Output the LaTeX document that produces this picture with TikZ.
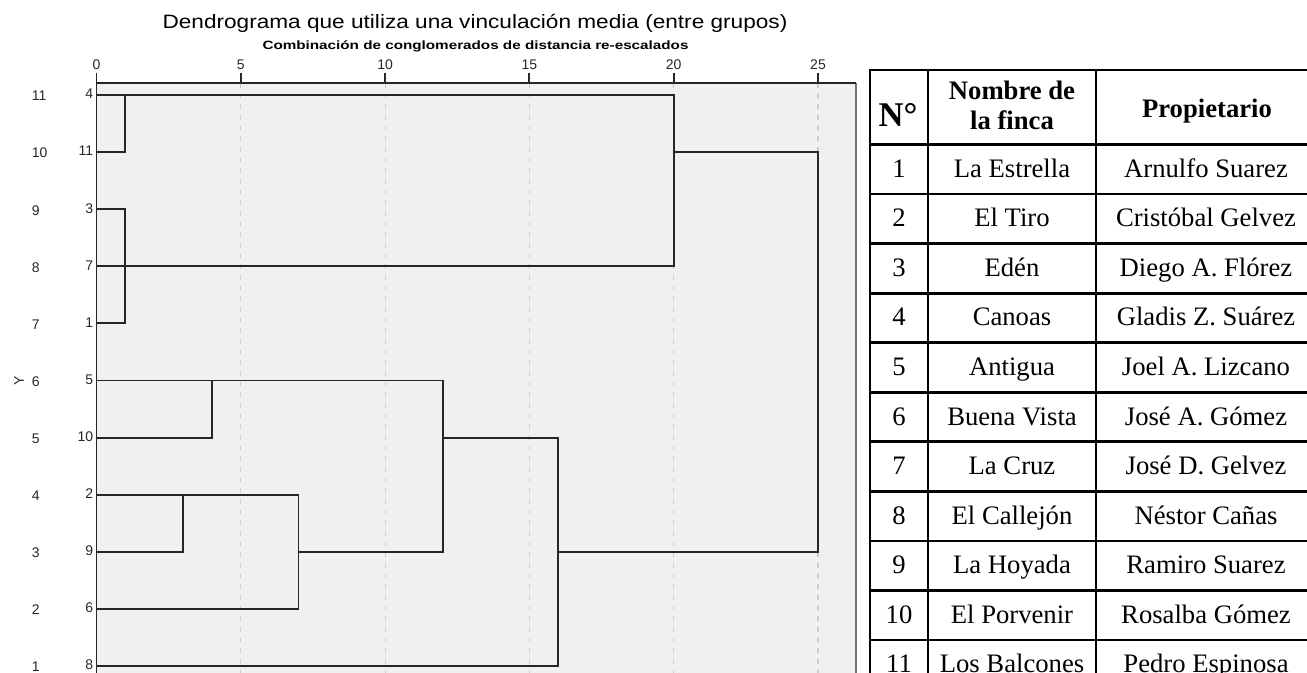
\documentclass[tikz,border=0pt]{standalone}
\usepackage{fontspec}
\setmainfont{Liberation Serif}
\setsansfont{Liberation Sans}
\usepackage{graphicx}
\usetikzlibrary{calc}
\newcommand\dd[1]{96.5+28.86*#1}
\begin{document}
\begin{tikzpicture}[x=0.75pt,y=-0.75pt,
  tree/.style={draw=black!85, line width=1.4pt},
  gridline/.style={draw=black!20, line width=0.9pt, dash pattern=on 3.5pt off 4.5pt},
  axis/.style={draw=black!85, line width=1.4pt},
  frameline/.style={draw=black!55, line width=1.4pt},
  lbl/.style={font=\sffamily\fontsize{10.5}{12}\selectfont, text=black!85, inner sep=0pt},
  tab/.style={draw=black, line width=2.1pt},
  cell/.style={font=\fontsize{20}{24}\selectfont, inner sep=0pt, anchor=base},
  head/.style={font=\bfseries\fontsize{20}{23}\selectfont, inner sep=0pt, align=center, anchor=base}]
\useasboundingbox (0,0) rectangle (1307,673);
\clip (0,0) rectangle (1307,673);

% titles
\node[font=\sffamily\fontsize{14.5}{16}\selectfont, inner sep=0pt] (title) at (475,23)
  {\scalebox{1.17}[1]{Dendrograma que utiliza una vinculación media (entre grupos)}};
\node[font=\sffamily\bfseries\fontsize{9}{10}\selectfont, inner sep=0pt] (subtitle) at (475.5,46)
  {\scalebox{1.27}[1]{Combinación de conglomerados de distancia re-escalados}};

% plot area
\fill[black!6] (96.5,83) rectangle (856,690);
\foreach \v in {0,1,3,4,5,7,10,12,15,16,20,25}
  \coordinate (d\v) at ({\dd{\v}},83);
\foreach \v in {5,10,...,25}
  \draw[gridline] (d\v) -- ++(0,600);
\foreach \v in {0,5,...,25}{
  \node[lbl] (tick\v) at ($(d\v)+(0,-18)$) {\v};
  \draw[axis] (d\v) -- ++(0,-10);
}
\draw[frameline] (856,83) -- (856,690);
\draw[axis] (96.5,690) -- (d0) -- (856,83);

% row numbers, case labels and leaf points
\foreach \c/\r [count=\i from 0] in {4/11,11/10,3/9,7/8,1/7,5/6,10/5,2/4,9/3,6/2,8/1}{
  \pgfmathsetmacro\yy{95+57.1*\i}
  \node[lbl, anchor=west] (row\r) at (31.5,\yy+1) {\r};
  \node[lbl, anchor=east] (case\c) at (93.5,\yy-1) {\c};
  \coordinate (c\c) at (96.5,\yy);
}
\node[lbl, rotate=90] (ylab) at (19,380.5) {Y};

% dendrogram
\draw[tree] (c4) -- (c4 -| d20) -- (c7 -| d20) -- (c7);
\draw[tree] (c11) -- (c11 -| d1) -- (c4 -| d1);
\draw[tree] (c3) -- (c3 -| d1) -- (c1 -| d1) -- (c1);
\draw[tree] (c11 -| d20) -- (c11 -| d25) -- (c9 -| d25) -- (c9 -| d16);
\draw[tree] (c5) -- (c5 -| d12) -- (c9 -| d12) -- (c9 -| d7);
\draw[tree] (c10) -- (c10 -| d4) -- (c5 -| d4);
\draw[tree] (c2) -- (c2 -| d7) -- (c6 -| d7) -- (c6);
\draw[tree] (c9) -- (c9 -| d3) -- (c2 -| d3);
\draw[tree] (c10 -| d12) -- (c10 -| d16) -- (c8 -| d16) -- (c8);

% table
\draw[tab] (870,70) rectangle (1316,690);
\draw[tab] (928,70) -- (928,690);
\draw[tab] (1096,70) -- (1096,690);
\foreach \k in {0,...,10}
  \draw[tab] (870,{144.5+49.55*\k}) -- (1316,{144.5+49.55*\k});
\node[head, font=\bfseries\fontsize{26}{28}\selectfont] (hnum) at (898,127) {N°};
\node[head] (hname) at (1012,130) {Nombre de\\la finca};
\node[head] (howner) at (1207,117.5) {Propietario};
\foreach \f/\p [count=\i] in {La Estrella/Arnulfo Suarez, El Tiro/Cristóbal Gelvez,
  Edén/Diego A. Flórez, Canoas/Gladis Z. Suárez, Antigua/Joel A. Lizcano,
  Buena Vista/José A. Gómez, La Cruz/José D. Gelvez, El Callejón/Néstor Cañas,
  La Hoyada/Ramiro Suarez, El Porvenir/Rosalba Gómez, Los Balcones/Pedro Espinosa}{
  \pgfmathsetmacro\yy{144.5+49.55*(\i-0.5)+8}
  \node[cell] (num\i) at (899,\yy) {\i};
  \node[cell] (farm\i) at (1012,\yy) {\f};
  \node[cell] (owner\i) at (1206,\yy) {\p};
}
\end{tikzpicture}
\end{document}
